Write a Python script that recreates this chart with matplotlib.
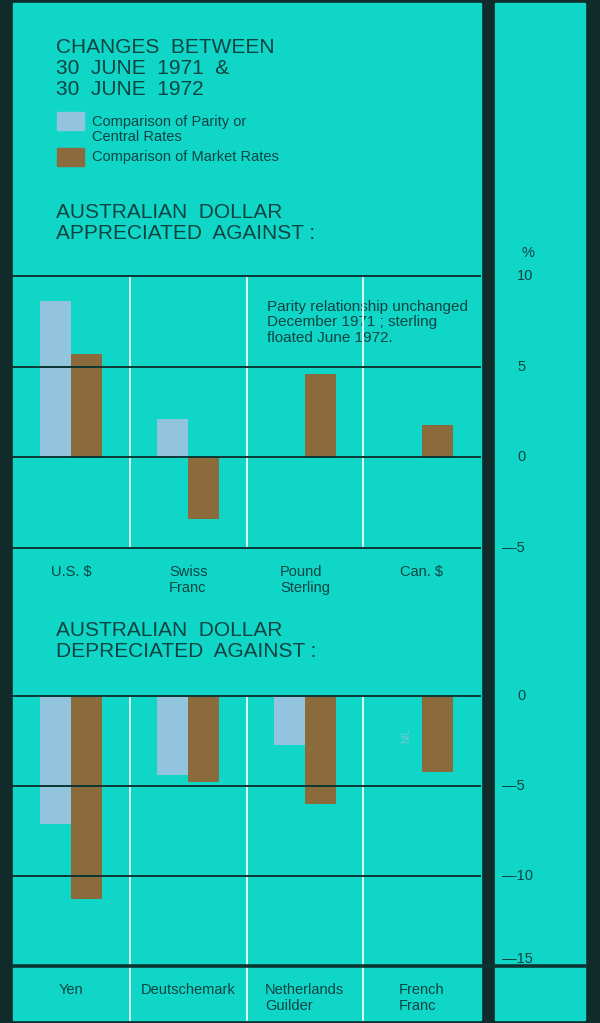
"""Australian dollar: changes between 30 June 1971 and 30 June 1972."""
import numpy as np
import matplotlib
matplotlib.use("Agg")
import matplotlib.pyplot as plt
from matplotlib.patches import Rectangle
from matplotlib.transforms import blended_transform_factory

plt.rcParams["font.family"] = ["Liberation Sans", "DejaVu Sans"]

W, H = 600, 1023

# appreciated against (per cent)
up_labels = ["U.S. $", "Swiss\nFranc", "Pound\nSterling", "Can. $"]
up_parity = [8.6, 2.1, np.nan, np.nan]
up_market = [5.7, -3.4, 4.6, 1.8]
up_ticks = [10, 5, 0, -5]
up_tick_labels = ["10", "5", "0", "\u20145"]

# depreciated against (per cent)
down_labels = ["Yen", "Deutschemark", "Netherlands\nGuilder", "French\nFranc"]
down_parity = [-7.1, -4.4, -2.7, np.nan]
down_market = [-11.3, -4.8, -6.0, -4.2]
down_ticks = [0, -5, -10, -15]
down_tick_labels = ["0", "\u20145", "\u201410", "\u201415"]

TEAL = "#10d6c8"
DARK = "#0f2b2a"
INK = "#0c4441"
LINE = "#0b3634"
PARITY = "#93c4de"
MARKET = "#8b6a3b"
BW = 0.265


def box(x0, y0, x1, y1):
    return [x0 / W, 1 - y1 / H, (x1 - x0) / W, (y1 - y0) / H]


def ftext(x, y, s, **kw):
    kw.setdefault("color", INK)
    fig.text(x / W, 1 - y / H, s, **kw)


def panel(ax, labels, parity, market, ticks, tick_labels, vline_ymin):
    x = np.arange(len(labels)) + 0.5
    parity = np.array(parity)
    ok = ~np.isnan(parity)
    ax.bar(x[ok] - BW / 2, parity[ok], BW, color=PARITY, zorder=2)
    ax.bar(x + BW / 2, market, BW, color=MARKET, zorder=2)
    ax.set_xlim(0, len(labels))
    ax.set_ylim(min(ticks), max(ticks))
    ax.axis("off")
    for b in range(1, len(labels)):
        ax.axvline(b, ymin=vline_ymin, ymax=1, color="white", lw=1.2,
                   zorder=3, clip_on=False)
    for t in ticks:
        ax.axhline(t, color=LINE, lw=1.4, zorder=4, clip_on=False)
    for xi, lab in zip(x, labels):
        ax.annotate(lab, (xi, min(ticks)), xytext=(0, -12),
                    textcoords="offset points", ha="center", va="top",
                    multialignment="left", fontsize=10.5, color=INK,
                    linespacing=1.2)
    tr = blended_transform_factory(fig.transFigure, ax.transData)
    for t, lab in zip(ticks, tick_labels):
        xpos = 502 if lab.startswith("\u2014") else 517
        fig.text(xpos / W, t, lab, transform=tr, ha="left",
                 va="bottom" if t == -15 else "center",
                 fontsize=10.5, color=INK)


fig = plt.figure(figsize=(W / 100, H / 100), dpi=100, facecolor=DARK)
fig.patches.append(Rectangle((13 / W, 1 - 1020 / H), 468 / W, 1017 / H,
                             transform=fig.transFigure, color=TEAL, zorder=-2))
fig.patches.append(Rectangle((495 / W, 1 - 1020 / H), 90 / W, 1017 / H,
                             transform=fig.transFigure, color=TEAL, zorder=-2))

ax_up = fig.add_axes(box(13, 276, 480, 548))
ax_up.patch.set_alpha(0)
panel(ax_up, up_labels, up_parity, up_market, up_ticks, up_tick_labels, 0)

ax_dn = fig.add_axes(box(13, 696, 480, 966))
ax_dn.patch.set_alpha(0)
panel(ax_dn, down_labels, down_parity, down_market, down_ticks,
      down_tick_labels, -0.2)
ax_dn.axhline(-15, xmax=(585 - 13) / (480 - 13), color=LINE, lw=2.6,
              zorder=4, clip_on=False)
ax_dn.text(3.5 - BW / 2, -2.2, "NIL", rotation=90, ha="center", va="center",
           fontsize=7, color="#7fc3d8")

ax_up.text(2.175, 8.7, "Parity relationship unchanged\nDecember 1971 ; sterling\n"
           "floated June 1972.", ha="left", va="top", fontsize=11, color=INK,
           linespacing=1.15, zorder=1)

ftext(56, 38, "CHANGES  BETWEEN\n30  JUNE  1971  &\n30  JUNE  1972",
      va="top", fontsize=15, linespacing=1.12)
fig.patches.append(Rectangle((57 / W, 1 - 130 / H), 27 / W, 18 / H,
                             transform=fig.transFigure, color=PARITY))
fig.patches.append(Rectangle((57 / W, 1 - 166 / H), 27 / W, 18 / H,
                             transform=fig.transFigure, color=MARKET))
ftext(92, 115, "Comparison of Parity or\nCentral Rates", va="top",
      fontsize=10.5, linespacing=1.1)
ftext(92, 157, "Comparison of Market Rates", va="center", fontsize=10.5)
ftext(56, 203, "AUSTRALIAN  DOLLAR\nAPPRECIATED  AGAINST :", va="top",
      fontsize=15, linespacing=1.12)
ftext(56, 621, "AUSTRALIAN  DOLLAR\nDEPRECIATED  AGAINST :", va="top",
      fontsize=15, linespacing=1.12)
ftext(521, 253, "%", va="center", fontsize=10.5)

fig.savefig("out.png", dpi=100, facecolor=DARK)
